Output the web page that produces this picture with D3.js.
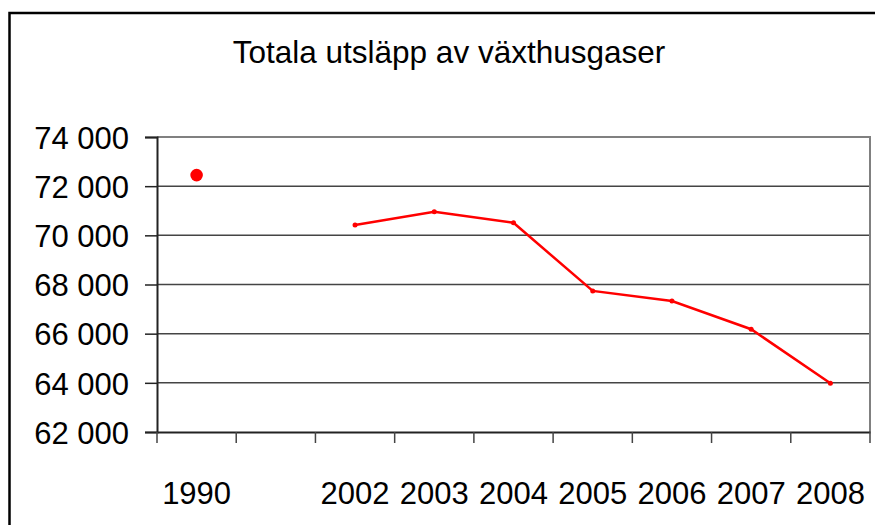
<!DOCTYPE html>
<html>
<head>
<meta charset="utf-8">
<script src="https://cdn.jsdelivr.net/npm/d3@7"></script>
<style>
	body { margin: 0; background: #fff; }
	text { font-family: "Liberation Sans", Arial, sans-serif; fill: #000; }
</style>
</head>
<body>
<svg width="875" height="525"></svg>
<script>
const categories = ["1990", "", "2002", "2003", "2004", "2005", "2006", "2007", "2008"];
const emissions = [72450, null, 70420, 70960, 70510, 67740, 67330, 66180, 63980];
const yTicks = [62000, 64000, 66000, 68000, 70000, 72000, 74000];
const title = "Totala utsläpp av växthusgaser";

const svg = d3.select("svg");
const margin = { top: 137, right: 5, bottom: 93, left: 157 };
const width = 875 - margin.left - margin.right;
const height = 525 - margin.top - margin.bottom;

// outer frame, only left and top edges are in view
svg.append("rect")
	.attr("x", 9.5).attr("y", 13)
	.attr("width", 900).attr("height", 600)
	.attr("fill", "none")
	.attr("stroke", "#000")
	.attr("stroke-width", 2.5);

svg.append("text")
	.attr("x", 449).attr("y", 63)
	.attr("text-anchor", "middle")
	.style("font-size", "31.5px")
	.text(title);

const x = d3.scaleBand().domain(categories.map((c, i) => i)).range([0, width]);
const y = d3.scaleLinear().domain([62000, 74000]).range([height, 0]);

const group = svg.append("g").attr("transform", `translate(${margin.left},${margin.top})`);

// gridlines
group.selectAll(".grid")
	.data(yTicks.slice(1, -1))
	.join("line")
	.attr("x1", 0).attr("x2", width)
	.attr("y1", d => y(d)).attr("y2", d => y(d))
	.attr("stroke", "#444")
	.attr("stroke-width", 1.5);

// plot border (top and right are grey)
group.append("path")
	.attr("d", `M0,${y(74000)}H${width}V${height}`)
	.attr("fill", "none")
	.attr("stroke", "#808080")
	.attr("stroke-width", 2);

const fmt = d => d3.format(",")(d).replace(",", " ");

const yAxis = group.append("g")
	.call(d3.axisLeft(y).tickValues(yTicks).tickFormat(fmt).tickSize(12).tickPadding(16));
yAxis.select(".domain").attr("stroke", "#222").attr("stroke-width", 2);
yAxis.selectAll(".tick line").attr("stroke", "#222").attr("stroke-width", 1.5);
yAxis.selectAll("text").style("font-size", "31px").attr("dy", "0.36em");

const xAxis = group.append("g")
	.attr("transform", `translate(0,${height})`)
	.call(d3.axisBottom(x).tickSize(0).tickFormat(i => categories[i]).tickPadding(50));
xAxis.select(".domain").attr("stroke", "#222").attr("stroke-width", 2);
xAxis.selectAll("text").style("font-size", "31px");

// ticks between categories
group.selectAll(".xtick")
	.data(d3.range(categories.length + 1))
	.join("line")
	.attr("x1", i => i * x.step()).attr("x2", i => i * x.step())
	.attr("y1", height).attr("y2", height + 11)
	.attr("stroke", "#444")
	.attr("stroke-width", 1.5);

const points = emissions.map((v, i) => ({ i, v })).filter(d => d.v !== null);
const cx = d => x(d.i) + x.bandwidth() / 2;

const line = d3.line()
	.defined(d => d.v !== null)
	.x(d => x(d.i) + x.bandwidth() / 2)
	.y(d => y(d.v));

group.append("path")
	.datum(emissions.map((v, i) => ({ i, v })).slice(2))
	.attr("d", line)
	.attr("fill", "none")
	.attr("stroke", "#ff0000")
	.attr("stroke-width", 2.5);

group.selectAll(".pt")
	.data(points)
	.join("circle")
	.attr("cx", cx)
	.attr("cy", d => y(d.v))
	.attr("r", d => d.i === 0 ? 6.3 : 2.5)
	.attr("fill", "#ff0000");
</script>
</body>
</html>
